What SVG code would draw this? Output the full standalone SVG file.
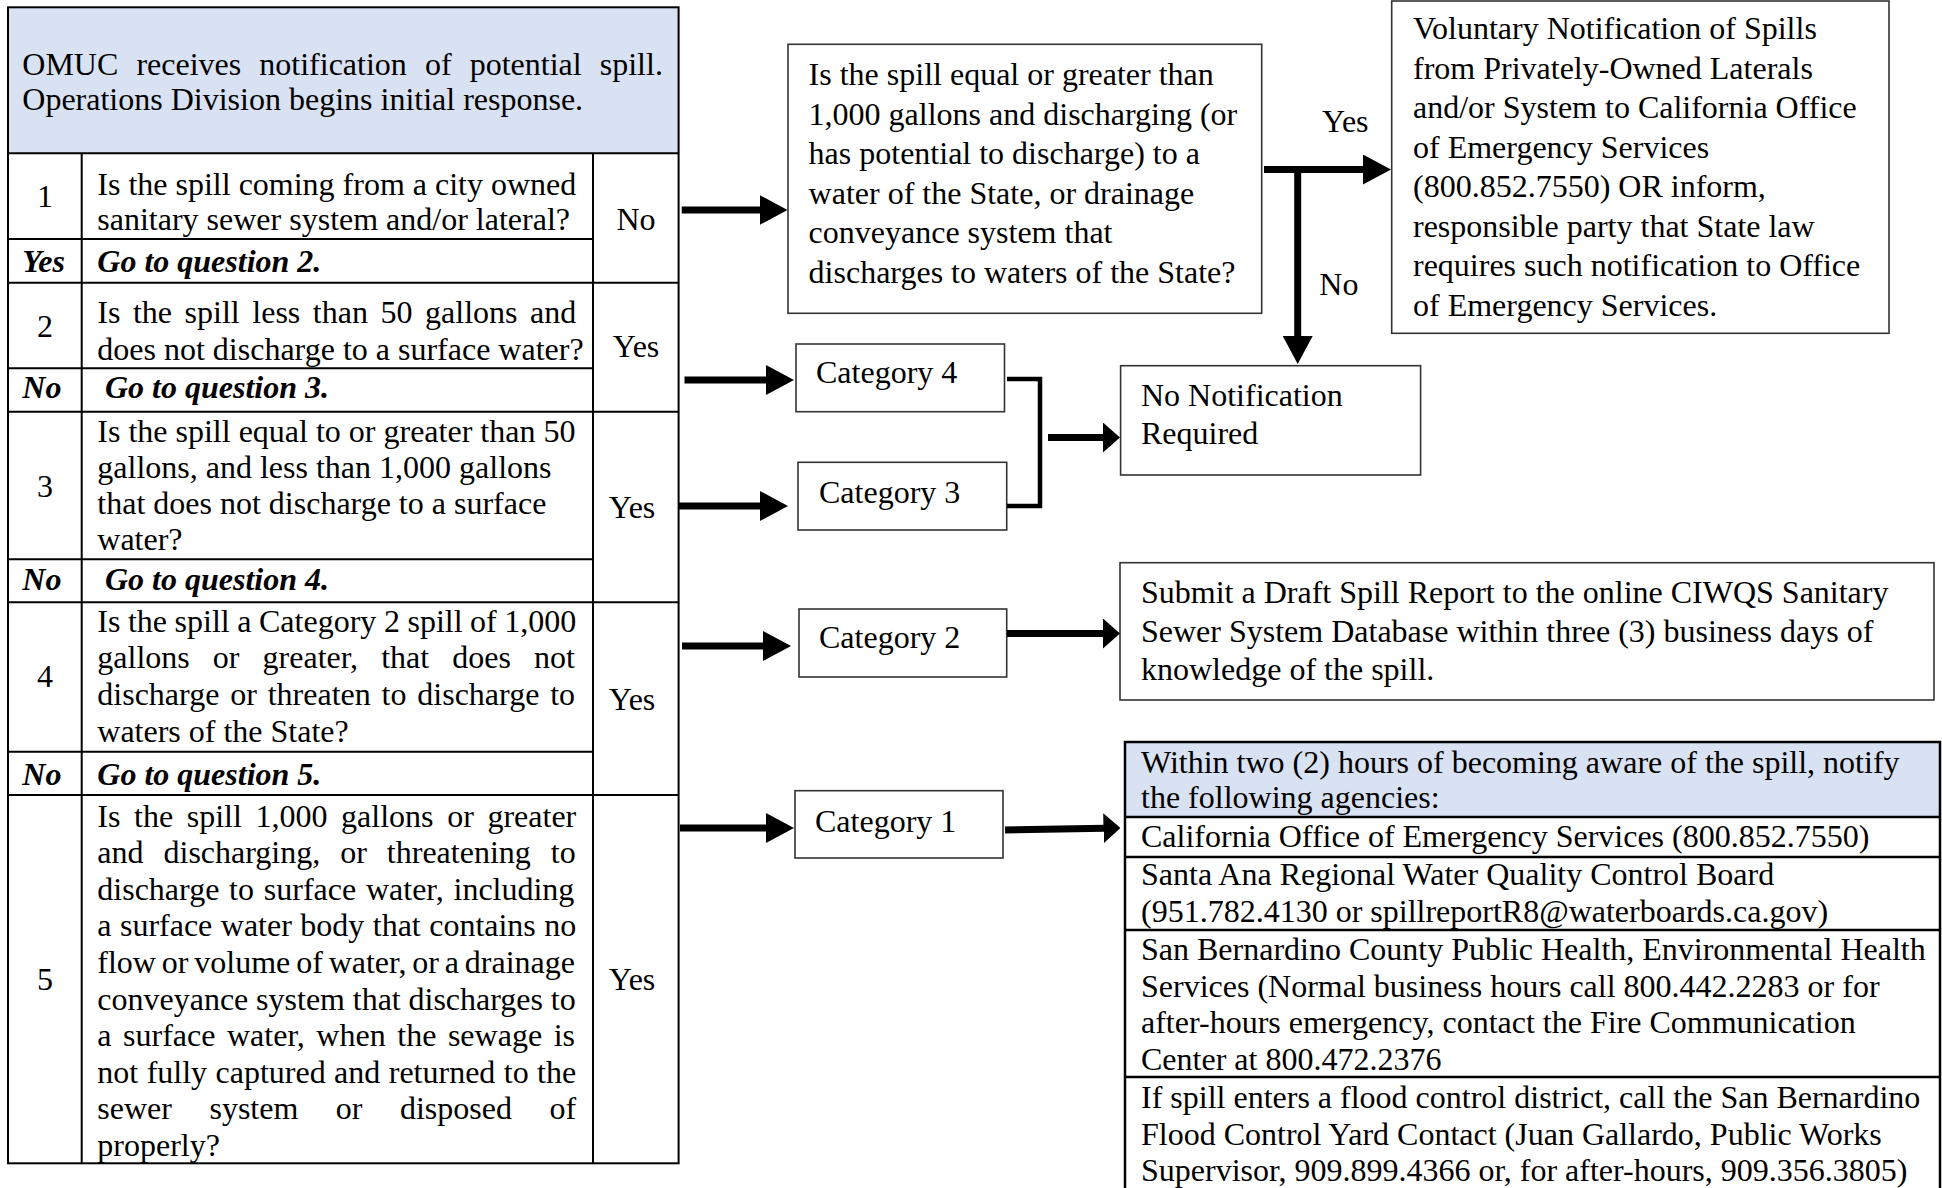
<svg xmlns="http://www.w3.org/2000/svg" width="1942" height="1188" viewBox="0 0 1942 1188">
<style>
.t{font-family:"Liberation Serif","Times New Roman",serif;font-size:32px;fill:#000}
.bi{font-weight:bold;font-style:italic}
.c{text-anchor:middle}
.box{fill:#fff;stroke:#333;stroke-width:1.6}
.grid{stroke:#000;stroke-width:2;fill:none}
.hdr{fill:#D9E2F3}
.arrow{stroke:#000;stroke-width:7;fill:none}
.brk{stroke:#000;stroke-width:4.5;fill:none}
</style>
<defs>
<marker id="ahL" markerUnits="userSpaceOnUse" markerWidth="28" markerHeight="30" refX="1" refY="15" orient="auto"><path d="M0,0 L28,15 L0,30 Z" fill="#000"/></marker>
<marker id="ahS" markerUnits="userSpaceOnUse" markerWidth="17" markerHeight="30" refX="1" refY="15" orient="auto"><path d="M0,0 L17,15 L0,30 Z" fill="#000"/></marker>
</defs>
<rect width="1942" height="1188" fill="#fff"/>

<g id="decision-table">
<rect class="hdr" x="8" y="7.3" width="670.6" height="146"/>
<rect class="grid" x="8" y="7.3" width="670.6" height="1156"/>
<line class="grid" x1="8" y1="153.3" x2="678.6" y2="153.3"/>
<line class="grid" x1="81.7" y1="153.3" x2="81.7" y2="1163.3"/>
<line class="grid" x1="593" y1="153.3" x2="593" y2="1163.3"/>
<line class="grid" x1="8" y1="239" x2="593" y2="239"/>
<line class="grid" x1="8" y1="368.3" x2="593" y2="368.3"/>
<line class="grid" x1="8" y1="559.3" x2="593" y2="559.3"/>
<line class="grid" x1="8" y1="751.7" x2="593" y2="751.7"/>
<line class="grid" x1="8" y1="282.7" x2="678.6" y2="282.7"/>
<line class="grid" x1="8" y1="411.7" x2="678.6" y2="411.7"/>
<line class="grid" x1="8" y1="602.3" x2="678.6" y2="602.3"/>
<line class="grid" x1="8" y1="795" x2="678.6" y2="795"/>
</g>

<g id="start">
<text class="t" x="22.3" y="75" word-spacing="10.1">OMUC receives notification of potential spill.</text>
<text class="t" x="22.3" y="110">Operations Division begins initial response.</text>
</g>

<g id="q1">
<text class="t c" x="44.9" y="206.7">1</text>
<text class="t" x="97.3" y="195">Is the spill coming from a city owned</text>
<text class="t" x="97.3" y="230">sanitary sewer system and/or lateral?</text>
<text class="t c" x="636" y="230">No</text>
<text class="t bi" x="22.3" y="271.7">Yes</text>
<text class="t bi" x="97.3" y="271.7">Go to question 2.</text>
</g>

<g id="q2">
<text class="t c" x="44.9" y="336.7">2</text>
<text class="t" x="97.3" y="323.3" word-spacing="4.56">Is the spill less than 50 gallons and</text>
<text class="t" x="97.3" y="360">does not discharge to a surface water?</text>
<text class="t c" x="636" y="356.7">Yes</text>
<text class="t bi" x="22.3" y="398.3">No</text>
<text class="t bi" x="105" y="398.3">Go to question 3.</text>
</g>

<g id="q3">
<text class="t c" x="44.9" y="496.7">3</text>
<text class="t" x="97.3" y="441.7">Is the spill equal to or greater than 50</text>
<text class="t" x="97.3" y="478">gallons, and less than 1,000 gallons</text>
<text class="t" x="97.3" y="514">that does not discharge to a surface</text>
<text class="t" x="97.3" y="550">water?</text>
<text class="t c" x="632" y="518.3">Yes</text>
<text class="t bi" x="22.3" y="590">No</text>
<text class="t bi" x="105" y="590">Go to question 4.</text>
</g>

<g id="q4">
<text class="t c" x="44.9" y="686.7">4</text>
<text class="t" x="97.3" y="631.7" word-spacing="-0.45">Is the spill a Category 2 spill of 1,000</text>
<text class="t" x="97.3" y="668.3" word-spacing="15.1">gallons or greater, that does not</text>
<text class="t" x="97.3" y="705" word-spacing="2.85">discharge or threaten to discharge to</text>
<text class="t" x="97.3" y="741.7">waters of the State?</text>
<text class="t c" x="632" y="710">Yes</text>
<text class="t bi" x="22.3" y="785">No</text>
<text class="t bi" x="97.3" y="785">Go to question 5.</text>
</g>

<g id="q5">
<text class="t c" x="44.9" y="990">5</text>
<text class="t" x="97.3" y="826.5" word-spacing="5.62">Is the spill 1,000 gallons or greater</text>
<text class="t" x="97.3" y="863.1" word-spacing="11.99">and discharging, or threatening to</text>
<text class="t" x="97.3" y="899.7" word-spacing="1.78">discharge to surface water, including</text>
<text class="t" x="97.3" y="936.3" word-spacing="0.45">a surface water body that contains no</text>
<text class="t" x="97.3" y="972.9" word-spacing="-2.15">flow or volume of water, or a drainage</text>
<text class="t" x="97.3" y="1009.5" word-spacing="-0.22">conveyance system that discharges to</text>
<text class="t" x="97.3" y="1046.1" word-spacing="3.57">a surface water, when the sewage is</text>
<text class="t" x="97.3" y="1082.7" word-spacing="0.44">not fully captured and returned to the</text>
<text class="t" x="97.3" y="1119.3" word-spacing="29.5">sewer system or disposed of</text>
<text class="t" x="97.3" y="1155.5">properly?</text>
<text class="t c" x="632" y="990">Yes</text>
</g>

<g id="state-waters-question">
<rect class="box" x="788" y="44.3" width="473.7" height="269"/>
<text class="t" x="808.6" y="85">Is the spill equal or greater than</text>
<text class="t" x="808.6" y="124.6">1,000 gallons and discharging (or</text>
<text class="t" x="808.6" y="164.2">has potential to discharge) to a</text>
<text class="t" x="808.6" y="203.8">water of the State, or drainage</text>
<text class="t" x="808.6" y="243.4">conveyance system that</text>
<text class="t" x="808.6" y="283">discharges to waters of the State?</text>
</g>

<g id="voluntary-notification">
<rect class="box" x="1391.7" y="1" width="497.3" height="332.3"/>
<text class="t" x="1413" y="39">Voluntary Notification of Spills</text>
<text class="t" x="1413" y="78.5">from Privately-Owned Laterals</text>
<text class="t" x="1413" y="118">and/or System to California Office</text>
<text class="t" x="1413" y="157.5">of Emergency Services</text>
<text class="t" x="1413" y="197">(800.852.7550) OR inform,</text>
<text class="t" x="1413" y="236.5">responsible party that State law</text>
<text class="t" x="1413" y="276">requires such notification to Office</text>
<text class="t" x="1413" y="315.5">of Emergency Services.</text>
</g>

<g id="no-notification">
<rect class="box" x="1120.6" y="365.7" width="300" height="109.3"/>
<text class="t" x="1141" y="405.5">No Notification</text>
<text class="t" x="1141" y="444">Required</text>
</g>

<g id="category-4">
<rect class="box" x="796" y="344" width="208.5" height="67.7"/>
<text class="t" x="816" y="383.3">Category 4</text>
</g>

<g id="category-3">
<rect class="box" x="798" y="462.3" width="208.7" height="67.7"/>
<text class="t" x="819" y="503.3">Category 3</text>
</g>

<g id="category-2">
<rect class="box" x="799" y="609" width="207.7" height="68"/>
<text class="t" x="819" y="648">Category 2</text>
</g>

<g id="category-1">
<rect class="box" x="795" y="790.7" width="208" height="67.3"/>
<text class="t" x="815" y="832">Category 1</text>
</g>

<g id="draft-report">
<rect class="box" x="1120" y="562.7" width="814" height="137.3"/>
<text class="t" x="1141" y="603.3">Submit a Draft Spill Report to the online CIWQS Sanitary</text>
<text class="t" x="1141" y="641.7">Sewer System Database within three (3) business days of</text>
<text class="t" x="1141" y="680">knowledge of the spill.</text>
</g>

<g id="agency-notification">
<rect class="hdr" x="1125" y="742" width="815" height="75"/>
<path d="M1125,1190 V742 H1940 V1190" fill="none" stroke="#000" stroke-width="2.5"/>
<line x1="1125" y1="817" x2="1940" y2="817" stroke="#000" stroke-width="2.5"/>
<line x1="1125" y1="857" x2="1940" y2="857" stroke="#000" stroke-width="2.5"/>
<line x1="1125" y1="930" x2="1940" y2="930" stroke="#000" stroke-width="2.5"/>
<line x1="1125" y1="1077" x2="1940" y2="1077" stroke="#000" stroke-width="2.5"/>
<text class="t" x="1141" y="773.3">Within two (2) hours of becoming aware of the spill, notify</text>
<text class="t" x="1141" y="808.3">the following agencies:</text>
<text class="t" x="1141" y="846.7">California Office of Emergency Services (800.852.7550)</text>
<text class="t" x="1141" y="885">Santa Ana Regional Water Quality Control Board</text>
<text class="t" x="1141" y="921.7">(951.782.4130 or spillreportR8@waterboards.ca.gov)</text>
<text class="t" x="1141" y="960">San Bernardino County Public Health, Environmental Health</text>
<text class="t" x="1141" y="996.7">Services (Normal business hours call 800.442.2283 or for</text>
<text class="t" x="1141" y="1033.3">after-hours emergency, contact the Fire Communication</text>
<text class="t" x="1141" y="1070">Center at 800.472.2376</text>
<text class="t" x="1141" y="1108.3">If spill enters a flood control district, call the San Bernardino</text>
<text class="t" x="1141" y="1145">Flood Control Yard Contact (Juan Gallardo, Public Works</text>
<text class="t" x="1141" y="1181">Supervisor, 909.899.4366 or, for after-hours, 909.356.3805)</text>
</g>

<g id="connectors">
<line class="arrow" x1="681.7" y1="210" x2="760.5" y2="210" marker-end="url(#ahL)"/>
<line class="arrow" x1="684.5" y1="380" x2="767" y2="380" marker-end="url(#ahL)"/>
<line class="arrow" x1="679" y1="506" x2="761" y2="506" marker-end="url(#ahL)"/>
<line class="arrow" x1="682" y1="646" x2="764" y2="646" marker-end="url(#ahL)"/>
<line class="arrow" x1="680" y1="828" x2="767" y2="828" marker-end="url(#ahL)"/>
<line class="arrow" x1="1264" y1="169.5" x2="1364" y2="169.5" marker-end="url(#ahL)"/>
<line class="arrow" x1="1297.7" y1="170" x2="1297.7" y2="337" marker-end="url(#ahL)"/>
<polyline class="brk" points="1007,379 1040,379 1040,506 1007,506"/>
<line class="arrow" x1="1048" y1="437.5" x2="1104" y2="437.5" marker-end="url(#ahS)"/>
<line class="arrow" x1="1007" y1="633.5" x2="1104" y2="633.5" marker-end="url(#ahS)"/>
<line class="arrow" x1="1005" y1="830" x2="1104.5" y2="828.2" marker-end="url(#ahS)"/>
<text class="t" x="1322" y="131.7">Yes</text>
<text class="t" x="1319.3" y="295">No</text>
</g>
</svg>
